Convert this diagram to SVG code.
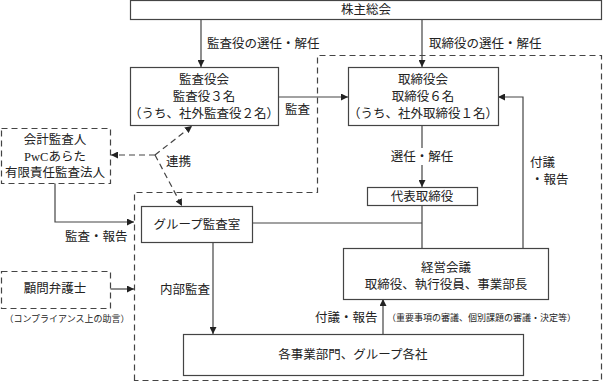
<svg xmlns="http://www.w3.org/2000/svg" width="603" height="381" viewBox="0 0 603 381">
<defs>
<marker id="ah" viewBox="0 0 8 8" refX="8" refY="4" markerWidth="7" markerHeight="7" markerUnits="userSpaceOnUse" orient="auto">
<path d="M0,0 L8,4 L0,8 z" fill="#222"/>
</marker>
</defs>
<style>
.box{fill:#fff;stroke:#444;stroke-width:1.2}
.dbox{fill:#fff;stroke:#444;stroke-width:1.2;stroke-dasharray:6 4}
.ln{fill:none;stroke:#444;stroke-width:1.2}
.dl{fill:none;stroke:#444;stroke-width:1.2;stroke-dasharray:6 4}
.arr{marker-end:url(#ah)}
text{font-family:"Liberation Serif","Noto Sans CJK JP",serif;fill:#222;font-size:12.5px}
.c{text-anchor:middle}
.s{font-size:9px}
</style>
<rect width="603" height="381" fill="#fff"/>
<path id="region" class="dl" d="M134.5,380.5 V192.5 H317.5 V55.5 H601.5 V380.5 Z"/>
<g id="connectors">
<line class="ln arr" x1="201" y1="19" x2="201" y2="67"/>
<line class="ln arr" x1="422" y1="19" x2="422" y2="67"/>
<line class="ln arr" x1="278" y1="97" x2="348" y2="97"/>
<line class="ln arr" x1="422" y1="125" x2="422" y2="187"/>
<rect x="390" y="148" width="64" height="17" fill="#fff"/>
<polyline class="ln arr" points="523,248 523,97 498,97"/>
<line class="ln" x1="422" y1="205" x2="422" y2="248"/>
<line class="ln" x1="252" y1="223" x2="422" y2="223"/>
<line class="ln arr" x1="213" y1="242" x2="213" y2="334"/>
<line class="ln arr" x1="383" y1="334" x2="383" y2="299"/>
<polyline class="ln arr" points="55,183 55,222 134,222"/>
<line class="ln arr" x1="110" y1="289" x2="134" y2="289"/>
<line class="dl arr" x1="155" y1="155" x2="111" y2="155"/>
<line class="dl arr" x1="155" y1="155" x2="192" y2="126"/>
<line class="dl arr" x1="155" y1="155" x2="182" y2="206"/>
</g>
<g id="labels">
<text x="207" y="48">監査役の選任・解任</text>
<text x="429" y="48">取締役の選任・解任</text>
<text x="285" y="114">監査</text>
<text x="422" y="161" class="c">選任・解任</text>
<text x="530" y="167">付議</text>
<text x="531" y="184">・報告</text>
<text x="166" y="166">連携</text>
<text x="65" y="241">監査・報告</text>
<text x="160" y="294">内部監査</text>
<text x="315" y="322">付議・報告</text>
<text x="387" y="321" class="s">（重要事項の審議、個別課題の審議・決定等）</text>
<text x="67" y="322" class="s c">（コンプライアンス上の助言）</text>
</g>
<g id="shareholders">
<rect class="box" x="130.5" y="0.5" width="471" height="19"/>
<text x="366" y="14" class="c">株主総会</text>
</g>
<g id="kansayakukai">
<rect class="box" x="130.5" y="67.5" width="148" height="58"/>
<text x="204" y="84" class="c">監査役会</text>
<text x="204" y="101" class="c">監査役３名</text>
<text x="204" y="118" class="c">（うち、社外監査役２名）</text>
</g>
<g id="torishimariyakukai">
<rect class="box" x="348.5" y="67.5" width="150" height="58"/>
<text x="423" y="84" class="c">取締役会</text>
<text x="423" y="101" class="c">取締役６名</text>
<text x="423" y="118" class="c">（うち、社外取締役１名）</text>
</g>
<g id="daihyo">
<rect class="box" x="367.5" y="187.5" width="110" height="18"/>
<text x="422" y="201" class="c">代表取締役</text>
</g>
<g id="kaikei">
<rect class="dbox" x="1.5" y="128.5" width="109" height="55"/>
<text x="55" y="144" class="c">会計監査人</text>
<text x="55" y="161" class="c">PwCあらた</text>
<text x="55" y="177" class="c">有限責任監査法人</text>
</g>
<g id="group-audit">
<rect class="box" x="141.5" y="206.5" width="111" height="36"/>
<text x="197" y="229" class="c">グループ監査室</text>
</g>
<g id="keiei">
<rect class="box" x="343.5" y="248.5" width="205" height="51"/>
<text x="446" y="272" class="c">経営会議</text>
<text x="446" y="289" class="c">取締役、執行役員、事業部長</text>
</g>
<g id="komon">
<rect class="dbox" x="1.5" y="271.5" width="109" height="37"/>
<text x="55" y="293" class="c">顧問弁護士</text>
</g>
<g id="jigyo">
<rect class="box" x="183.5" y="334.5" width="340" height="41"/>
<text x="353" y="359" class="c">各事業部門、グループ各社</text>
</g>
</svg>
